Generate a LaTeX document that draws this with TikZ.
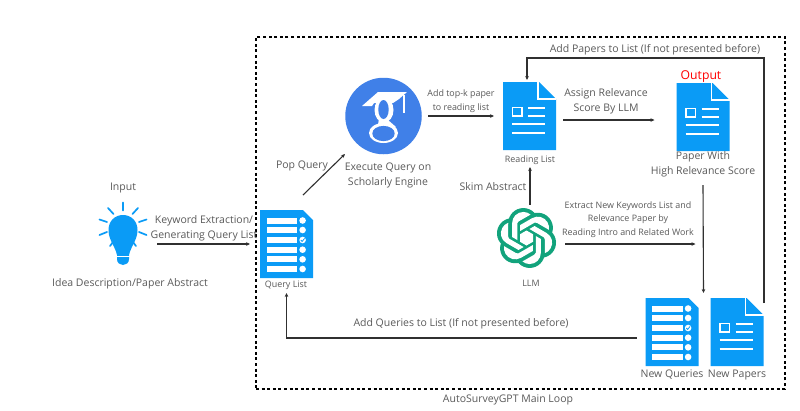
\documentclass[tikz,border=0pt]{standalone}
\usepackage{fontspec}
\setmainfont{Open Sans}
\usetikzlibrary{arrows.meta,calc}
\definecolor{iconblue}{HTML}{0A9BF6}
\definecolor{schblue}{HTML}{4080E8}
\definecolor{gptgreen}{HTML}{12A37C}
\definecolor{txt}{HTML}{5A5A5A}
\definecolor{linecol}{HTML}{303030}
\tikzset{
  iconbox/.style={inner sep=0pt,outer sep=0pt,minimum width=53pt,minimum height=68pt},
  lab/.style={font=\fontsize{10.5}{15}\selectfont,text=txt,align=center,inner sep=0pt},
  smalllab/.style={font=\fontsize{8.9}{13.5}\selectfont,text=txt,align=center,inner sep=0pt},
  arr/.style={draw=linecol,line width=1.1pt,-{Stealth[length=4pt,width=3.6pt]}},
  wline/.style={draw=white,line width=2pt},
}
\newcommand{\docicon}[3]{%
  \node[iconbox] (#1) at (#2,#3) {};
  \begin{scope}[shift={(#2-26.5,#3-34)}]
    \fill[iconblue] (0,0) -- (36,0) -- (53,17) -- (53,68) -- (0,68) -- cycle;
    \draw[white,line width=1.2pt] (35,0) -- (35,17) -- (53,17);
    \draw[white,line width=1.4pt] (9.6,25.5) rectangle (19,34);
    \draw[wline] (25,25.5) -- (42,25.5) (25,33.5) -- (42,33.5) (9,42) -- (42,42) (9,50.5) -- (42,50.5);
  \end{scope}}
\newcommand{\listicon}[3]{%
  \node[iconbox] (#1) at (#2,#3) {};
  \begin{scope}[shift={(#2-26.5,#3-34)}]
    \fill[iconblue] (0,0) -- (43,0) -- (53,10) -- (53,68) -- (0,68) -- cycle;
    \foreach \yy in {10.5,20,30,39.7,49.3,59} {
      \fill[white] (6.7,\yy-3) rectangle (37,\yy+3);
      \fill[white] (42.6,\yy) circle (3.3);
    }
    \draw[iconblue,line width=0.8pt] (40.8,30) -- (42.2,31.4) -- (44.6,28.4);
  \end{scope}}
\begin{document}
\begin{tikzpicture}[x=1pt,y=1pt,yscale=-1]
\useasboundingbox (0,0) rectangle (800,410);
\fill[white] (0,0) rectangle (800,410);
% main loop frame
\node[draw=black,line width=1.3pt,dash pattern=on 3pt off 2.6pt,minimum width=529pt,minimum height=352pt,inner sep=0pt] (mainloop) at (520.5,213) {};
% bulb
\node[inner sep=0pt,minimum width=30pt,minimum height=51pt] (bulb) at (123,240) {};
\fill[iconblue] (117,255) .. controls (115,246) and (108.5,240) .. (108.5,230)
  .. controls (108.5,221) and (115,215) .. (123,215)
  .. controls (131,215) and (137.5,221) .. (137.5,230)
  .. controls (137.5,240) and (131,246) .. (129,255) -- (129,259)
  .. controls (129,263) and (126,265) .. (123,265)
  .. controls (120,265) and (117,263) .. (117,259) -- cycle;
\draw[white,line width=1.2pt] (115,256.5) -- (131,256.5);
\draw[iconblue,line width=1.7pt,line cap=round]
  (123,202.5) -- (123,210.5) (108,208) -- (113.5,214) (138,208) -- (132.5,214)
  (99.5,219.5) -- (107,222) (146.5,219.5) -- (139,222)
  (99.5,235) -- (107,232) (146.5,235) -- (139,232)
  (110,246) -- (113,242) (136,246) -- (133,242);
% icons
\listicon{query}{286.5}{244}
\docicon{reading}{529.5}{116}
\docicon{output}{703}{117}
\listicon{queries}{672}{332}
\docicon{papers}{737}{332}
% scholar
\node[circle,fill=schblue,minimum size=76.5pt,inner sep=0pt] (scholar) at (383.5,116) {};
\fill[white] (362,106) -- (378,92) -- (407,92) -- (399,99) -- (393,103) -- (374,103) -- (372,106) -- cycle;
\fill[white] (402.8,95) rectangle (404.8,113);
\fill[white] (384,110) ellipse (9.5 and 12.5);
\fill[white] (379,118) -- (388,120) -- (396,127) -- (392,130) -- (378,125) -- cycle;
\fill[white] (383.5,133) ellipse (14.5 and 10);
\fill[schblue] (383.5,109.5) ellipse (5.2 and 9.5);
\fill[schblue] (383.5,133.5) ellipse (11.2 and 7.6);
% LLM logo
\node[inner sep=0pt,minimum width=56pt,minimum height=60pt] (llm) at (526.5,238) {};
\begin{scope}[shift={(526.5,238)},scale=2.5]
  \foreach \k in {0,60,...,300} {
    \fill[gptgreen,rotate=\k] (1.26,5.93) circle (6.05);
  }
  \foreach \k in {0,60,...,300} {
    \fill[white,rotate=\k] (3.7,-0.8) -- (5.75,0.4) -- (5.75,5.93)
      arc (0:130:4.49) -- (3.17,6.63) -- (3.7,5.9) -- cycle;
  }
  \fill[white] (90:3) -- (150:3) -- (210:3) -- (270:3) -- (330:3) -- (30:3) -- cycle;
\end{scope}
% connectors
\draw[arr] ($(bulb.east)+(19,4)$) -- ($(query.west)+(-10,0)$);
\draw[arr] ($(query.north east)+(-10,-15)$) -- ($(scholar.center)+(-38.5,38)$);
\draw[arr,shorten <=6.5pt,shorten >=9pt] (scholar.east) -- (reading.west);
\draw[arr] ($(reading.east)+(7,4)$) -- ($(output.west)+(-22,3)$);
\draw[arr] ($(output.south)+(0,34)$) -- ($(queries.north east)+(5,-5)$);
\draw[arr] ($(llm.north)+(3.5,-3)$) -- ($(reading.south)+(0.5,17)$);
\draw[arr] ($(llm.east)+(10.5,6)$) -- ($(queries.north east)+(-3,-54)$);
\draw[arr] ($(papers.north east)+(0.5,5)$) |- ($(reading.north)+(-2.5,-24)$) -- ($(reading.north)+(-2.5,-2)$);
\draw[arr] ($(queries.west)+(-9,6)$) -| ($(query.south)+(0,15)$);
% labels
\node[lab] (tinput) at (123,188) {Input};
\node[lab] (tidea) at (130,284) {Idea Description/Paper Abstract};
\node[lab] (tkey) at (204,228.5) {Keyword Extraction/\\Generating Query List};
\node[smalllab] (tquery) at (286,285) {Query List};
\node[lab] (tpop) at (302,166) {Pop Query};
\node[lab] (texec) at (388,175) {Execute Query on\\Scholarly Engine};
\node[smalllab] (ttopk) at (461,101) {Add top-k paper\\to reading list};
\node[smalllab] (treading) at (530,160) {Reading List};
\node[lab] (tskim) at (493,187) {Skim Abstract};
\node[lab] (tassign) at (606,101) {Assign Relevance\\Score By LLM};
\node[font=\fontsize{12.2}{14}\selectfont,text=red,inner sep=0pt] (toutput) at (701,77) {Output};
\node[lab] (tpaper) at (703,164.5) {Paper With\\High Relevance Score};
\node[lab] (tadd) at (655,50) {Add Papers to List (If not presented before)};
\node[smalllab] (textract) at (628,219.5) {Extract New Keywords List and\\Relevance Paper by\\Reading Intro and Related Work};
\node[smalllab] (tllm) at (531,283) {LLM};
\node[lab] (taddq) at (461,324) {Add Queries to List (If not presented before)};
\node[lab] (tnq) at (672,375) {New Queries};
\node[lab] (tnp) at (737,375) {New Papers};
\node[lab] (tmain) at (508,400) {AutoSurveyGPT Main Loop};
\end{tikzpicture}
\end{document}
